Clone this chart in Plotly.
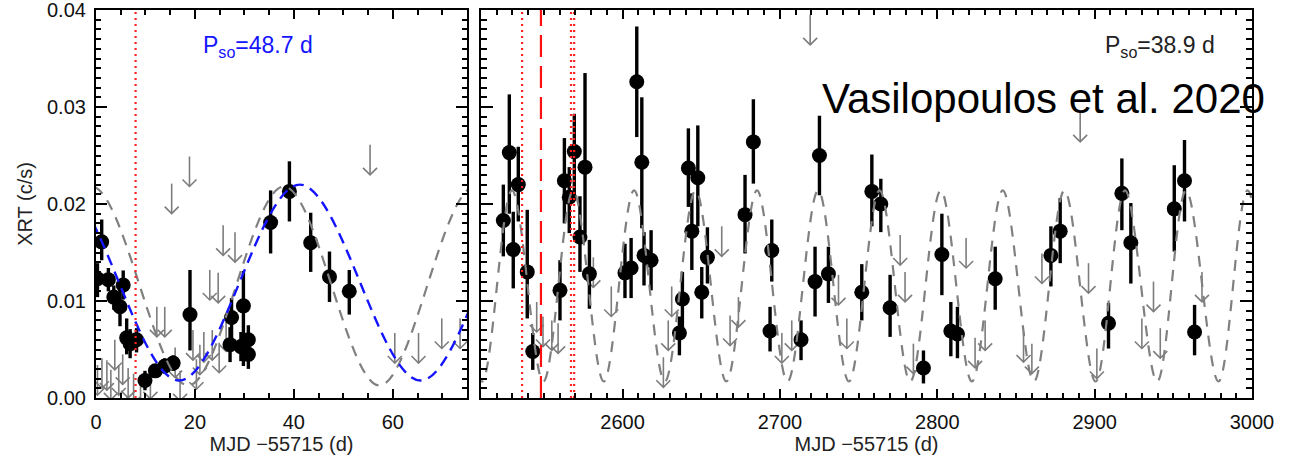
import plotly.graph_objects as go

# ---------------- data ----------------
# Left panel: detections (MJD-55715, XRT c/s, error up, error down)
left_x = [1.15, 0.3, 2.5, 3.6, 4.85, 5.5, 6.2, 6.9, 8.2, 9.9, 12.0, 13.9, 15.6,
          19.0, 27.4, 27.1, 29.8, 29.3, 30.8, 30.8, 35.3, 39.1, 43.4, 47.2, 51.2]
left_y = [0.0161, 0.0123, 0.0122, 0.0104, 0.0094, 0.01165, 0.0062, 0.0056, 0.0060,
          0.0018, 0.0028, 0.0033, 0.0036, 0.0086, 0.0083, 0.0055, 0.0095, 0.0053,
          0.0060, 0.0045, 0.0181, 0.0213, 0.0160, 0.0125, 0.0110]
left_err_up = [0.0023, 0.0016, 0.0012, 0.0012, 0.0021, 0.0015, 0.0020, 0.0015, 0.0012,
               0.0010, 0.0007, 0.0008, 0.0008, 0.0046, 0.0020, 0.0018, 0.0036, 0.0015,
               0.0015, 0.0015, 0.0033, 0.0031, 0.0031, 0.0026, 0.0022]
left_err_dn = [0.0019, 0.0019, 0.0012, 0.0013, 0.0020, 0.0015, 0.0017, 0.0015, 0.0013,
               0.0010, 0.0007, 0.0008, 0.0008, 0.0037, 0.0025, 0.0018, 0.0062, 0.0015,
               0.0018, 0.0015, 0.0032, 0.0031, 0.0030, 0.0026, 0.0024]

# Left panel: upper limits
left_ul_x = [0.3, 1.2, 2.2, 3.0, 3.8, 4.6, 5.4, 6.5, 7.6, 9.0, 11.0, 12.3, 13.9, 15.3,
             16.0, 17.0, 18.9, 19.6, 20.3, 21.0, 21.8, 23.0, 23.5, 24.7, 24.9, 25.7,
             26.3, 28.1, 55.4, 60.4, 65.2, 69.9, 73.6]
left_ul_y = [0.0034, 0.0041, 0.0039, 0.0029, 0.0060, 0.0034, 0.0045, 0.0031, 0.0025,
             0.0020, 0.0030, 0.0094, 0.0094, 0.0221, 0.0052, 0.0028, 0.0249, 0.0070,
             0.0040, 0.0055, 0.0068, 0.0132, 0.0070, 0.0129, 0.0057, 0.0178, 0.0079,
             0.0171, 0.0261, 0.0067, 0.0067, 0.0082, 0.0082]

# Right panel: detections
right_x = [2524.2, 2528.0, 2530.5, 2533.7, 2539.4, 2542.9, 2560.2, 2563.0, 2566.1,
           2569.3, 2576.1, 2572.9, 2578.9, 2601.5, 2605.4, 2609.0, 2612.2, 2613.6,
           2618.1, 2636.1, 2638.0, 2641.8, 2644.0, 2647.8, 2650.3, 2653.9, 2677.8,
           2683.1, 2694.8, 2693.7, 2713.4, 2722.3, 2725.1, 2730.8, 2752.0, 2758.4,
           2764.1, 2770.0, 2791.2, 2802.9, 2808.6, 2812.8, 2836.8, 2872.2, 2878.1,
           2908.8, 2917.3, 2923.0, 2950.6, 2957.1, 2963.5]
right_y = [0.0183, 0.0253, 0.0153, 0.0220, 0.0130, 0.0048, 0.0111, 0.0224, 0.0207,
           0.0254, 0.0238, 0.0166, 0.0128, 0.0129, 0.0134, 0.0326, 0.0243, 0.0147,
           0.0142, 0.0067, 0.0102, 0.0237, 0.0172, 0.0227, 0.0109, 0.0145, 0.0189,
           0.0264, 0.0152, 0.0069, 0.0060, 0.0120, 0.0250, 0.0128, 0.0109, 0.0213,
           0.0200, 0.0093, 0.0031, 0.0148, 0.0069, 0.0066, 0.0123, 0.0147, 0.0172,
           0.0077, 0.0211, 0.0160, 0.0195, 0.0224, 0.0068]
right_err_up = [0.0037, 0.0060, 0.0039, 0.0039, 0.0064, 0.0019, 0.0031, 0.0044, 0.0031,
                0.0039, 0.0097, 0.0042, 0.0035, 0.0030, 0.0031, 0.0057, 0.0067, 0.0024,
                0.0031, 0.0017, 0.0028, 0.0041, 0.0039, 0.0054, 0.0026, 0.0031, 0.0041,
                0.0044, 0.0032, 0.0025, 0.0020, 0.0036, 0.0041, 0.0028, 0.0029, 0.0038,
                0.0026, 0.0034, 0.0018, 0.0042, 0.0030, 0.0028, 0.0033, 0.0030, 0.0034,
                0.0021, 0.0036, 0.0041, 0.0045, 0.0042, 0.0028]
right_err_dn = [0.0037, 0.0063, 0.0040, 0.0038, 0.0048, 0.0019, 0.0031, 0.0044, 0.0037,
                0.0050, 0.0068, 0.0036, 0.0036, 0.0026, 0.0031, 0.0057, 0.0068, 0.0031,
                0.0031, 0.0023, 0.0035, 0.0040, 0.0040, 0.0050, 0.0027, 0.0027, 0.0040,
                0.0043, 0.0032, 0.0021, 0.0021, 0.0036, 0.0041, 0.0030, 0.0029, 0.0036,
                0.0029, 0.0030, 0.0016, 0.0042, 0.0026, 0.0025, 0.0032, 0.0032, 0.0033,
                0.0026, 0.0038, 0.0042, 0.0044, 0.0042, 0.0024]

# Right panel: upper limits
right_ul_x = [2545.4, 2549.4, 2555.0, 2559.0, 2581.4, 2592.8, 2625.9, 2629.0, 2631.2,
              2663.0, 2668.3, 2673.6, 2701.2, 2707.5, 2719.2, 2737.2, 2742.5, 2776.4,
              2779.5, 2784.8, 2818.3, 2824.0, 2830.4, 2854.8, 2860.1, 2866.5, 2890.8,
              2896.1, 2901.4, 2930.0, 2937.4, 2941.7, 2968.2]
right_ul_y = [0.0099, 0.0084, 0.0080, 0.0077, 0.0145, 0.0115, 0.0042, 0.0080, 0.0115,
              0.0177, 0.0085, 0.0104, 0.0067, 0.0080, 0.0395, 0.0127, 0.0082, 0.0168,
              0.0130, 0.0056, 0.0165, 0.0062, 0.0080, 0.0068, 0.0056, 0.0149, 0.0295,
              0.0139, 0.0051, 0.0082, 0.0120, 0.0072, 0.0130]

# Model curves: extrema (peaks / troughs)
left_gray_x = [-20.4, -0.9, 18.6, 38.0, 57.3, 76.6, 96.0]
left_gray_y = [0.0013, 0.0218, 0.0013, 0.0218, 0.0013, 0.0218, 0.0013]
left_blue_x = [-31.9, -7.5, 16.8, 41.2, 65.6, 89.9, 114.3]
left_blue_y = [0.0018, 0.0220, 0.0018, 0.0220, 0.0018, 0.0220, 0.0018]
right_gray_x = [2471.5, 2491.0, 2510.6, 2529.7, 2549.6, 2568.6, 2588.0, 2607.3, 2626.8,
                2646.4, 2665.9, 2685.4, 2704.8, 2724.3, 2743.8, 2763.3, 2782.8, 2802.2,
                2822.0, 2841.6, 2861.4, 2880.8, 2900.6, 2919.3, 2939.7, 2958.1, 2978.7,
                2997.2, 3017.6, 3036.5]
right_gray_y = [0.0017, 0.0214] * 15

# Vertical red markers
left_red_dot = [8.0]
right_red_dot = [2536.1, 2567.2, 2569.2]
right_red_dash = [2548.1]

# Axes
left_xrange = [0, 75]
right_xrange = [2510, 3000]
y_range = [0.0, 0.04]
left_xticks = [0, 20, 40, 60]
right_xticks = [2600, 2700, 2800, 2900, 3000]
y_ticks = [0.00, 0.01, 0.02, 0.03, 0.04]
y_ticklabels = ["0.00", "0.01", "0.02", "0.03", "0.04"]

# ---------------- layout geometry ----------------
W, H = 1301, 457
ML, MR, MT, MB = 96, 49, 10, 59
plot_w = W - ML - MR
plot_h = H - MT - MB
left_px = 371
gap_px = 14
dom1 = [0, left_px / plot_w]
dom2 = [(left_px + gap_px) / plot_w, 1]
right_px = plot_w - left_px - gap_px

FONT = "Liberation Sans, Arial, Helvetica, sans-serif"
ARROW_PX = 30
HEAD_PX = 7
y_per_px = (y_range[1] - y_range[0]) / plot_h
arrow_len = ARROW_PX * y_per_px
head_dy = HEAD_PX * y_per_px


def arrow_path(xs, ys, head_dx):
    px, py = [], []
    for x, y in zip(xs, ys):
        tip = y - arrow_len
        px += [x, x, None, x - head_dx, x, x + head_dx, None]
        py += [y, tip, None, tip + head_dy, tip, tip + head_dy, None]
    return px, py


def vlines(xs):
    px, py = [], []
    for x in xs:
        px += [x, x, None]
        py += [y_range[0], y_range[1], None]
    return px, py


fig = go.Figure()

GRAY_ARROW = "#7d7d7d"
for xa, ya, xs, ys, eu, ed, ulx, uly, xr, wpx in [
    ("x", "y", left_x, left_y, left_err_up, left_err_dn, left_ul_x, left_ul_y, left_xrange, left_px),
    ("x2", "y2", right_x, right_y, right_err_up, right_err_dn, right_ul_x, right_ul_y, right_xrange, right_px),
]:
    head_dx = HEAD_PX * (xr[1] - xr[0]) / wpx
    ax_, ay_ = arrow_path(ulx, uly, head_dx)
    fig.add_trace(go.Scatter(x=ax_, y=ay_, mode="lines", xaxis=xa, yaxis=ya,
                             line=dict(color=GRAY_ARROW, width=1.6), hoverinfo="skip",
                             showlegend=False))
    fig.add_trace(go.Scatter(
        x=xs, y=ys, mode="markers", xaxis=xa, yaxis=ya, showlegend=False,
        marker=dict(color="black", size=15, line=dict(width=0)),
        error_y=dict(type="data", array=eu, arrayminus=ed, symmetric=False,
                     color="black", thickness=3.4, width=0)))

# model curves
fig.add_trace(go.Scatter(x=left_gray_x, y=left_gray_y, mode="lines", xaxis="x", yaxis="y",
                         line=dict(color="#808080", width=2.2, dash="11px,8px", shape="spline"),
                         showlegend=False))
fig.add_trace(go.Scatter(x=left_blue_x, y=left_blue_y, mode="lines", xaxis="x", yaxis="y",
                         line=dict(color="#1414ff", width=2.4, dash="11px,7px", shape="spline"),
                         showlegend=False))
fig.add_trace(go.Scatter(x=right_gray_x, y=right_gray_y, mode="lines", xaxis="x2", yaxis="y2",
                         line=dict(color="#808080", width=2.2, dash="11px,9px", shape="spline"),
                         showlegend=False))

# red vertical lines
vx, vy = vlines(left_red_dot)
fig.add_trace(go.Scatter(x=vx, y=vy, mode="lines", xaxis="x", yaxis="y", showlegend=False,
                         line=dict(color="#ff2020", width=2.2, dash="2px,4px")))
vx, vy = vlines(right_red_dot)
fig.add_trace(go.Scatter(x=vx, y=vy, mode="lines", xaxis="x2", yaxis="y2", showlegend=False,
                         line=dict(color="#ff2020", width=2.2, dash="2px,4px")))
vx, vy = vlines(right_red_dash)
fig.add_trace(go.Scatter(x=vx, y=vy, mode="lines", xaxis="x2", yaxis="y2", showlegend=False,
                         line=dict(color="#ff1010", width=2.2, dash="22px,9px")))

axis_common = dict(showline=True, linecolor="black", linewidth=2.2, mirror="allticks",
                   ticks="inside", tickcolor="black", tickwidth=1.8, showgrid=False,
                   zeroline=False, automargin=False, ticklabeloverflow="allow",
                   tickfont=dict(family=FONT, size=20, color="#111"))
minor_style = dict(ticks="inside", tickcolor="black", tickwidth=1.6)

fig.update_layout(
    width=W, height=H, margin=dict(l=ML, r=MR, t=MT, b=MB, autoexpand=False),
    paper_bgcolor="white", plot_bgcolor="white", showlegend=False,
    font=dict(family=FONT, color="#111"),
    xaxis=dict(domain=dom1, range=left_xrange, tickvals=left_xticks, ticklen=9,
               minor=dict(dtick=5, tick0=0, ticklen=5, **minor_style),
               ticklabelstandoff=5,
               title=dict(text="MJD \u221255715 (d)", font=dict(family=FONT, size=20, color="#222"), standoff=5),
               anchor="y", **axis_common),
    yaxis=dict(domain=[0, 1], range=y_range, tickvals=y_ticks, ticktext=y_ticklabels, ticklen=11,
               minor=dict(dtick=0.001, tick0=0, ticklen=5, **minor_style),
               ticklabelstandoff=4,
               title=dict(text="XRT (c/s)", font=dict(family=FONT, size=20, color="#222"), standoff=9),
               anchor="x", **axis_common),
    xaxis2=dict(domain=dom2, range=right_xrange, tickvals=right_xticks, ticklen=9,
                minor=dict(dtick=10, tick0=0, ticklen=5, **minor_style),
                ticklabelstandoff=5,
                title=dict(text="MJD \u221255715 (d)", font=dict(family=FONT, size=20, color="#222"), standoff=5),
                anchor="y2", **axis_common),
    yaxis2=dict(domain=[0, 1], range=y_range, tickvals=y_ticks, ticklen=12, showticklabels=False,
                minor=dict(dtick=0.001, tick0=0, ticklen=6, **minor_style),
                anchor="x2", **axis_common),
)

fig.add_annotation(x=21.3, y=0.0362, xref="x", yref="y", xanchor="left", yanchor="middle",
                   text="P<sub>so</sub>=48.7 d", showarrow=False,
                   font=dict(family=FONT, size=23, color="#1414ff"))
fig.add_annotation(x=2905.0, y=0.0362, xref="x2", yref="y2", xanchor="left", yanchor="middle",
                   text="P<sub>so</sub>=38.9 d", showarrow=False,
                   font=dict(family=FONT, size=23, color="#222"))
fig.add_annotation(x=2725.5, y=0.0309, xref="x2", yref="y2", xanchor="left", yanchor="middle",
                   text="Vasilopoulos et al. 2020", showarrow=False,
                   font=dict(family=FONT, size=42, color="black"))

fig.write_html("out.html")
